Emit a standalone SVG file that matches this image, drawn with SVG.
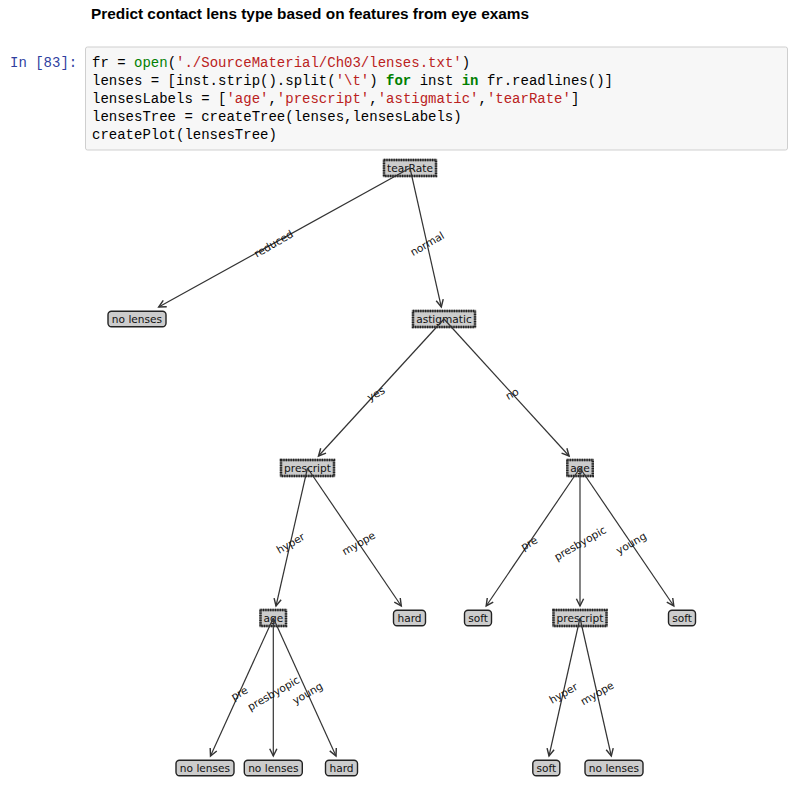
<svg xmlns="http://www.w3.org/2000/svg" width="789" height="786" viewBox="0 0 789 786">
<style>
.title{font-family:"Liberation Sans",Arial,sans-serif;font-size:14.3px;font-weight:bold;fill:#000}
.code{font-family:"Liberation Mono","Courier New",monospace;font-size:14px;fill:#000;white-space:pre}
.prompt{font-family:"Liberation Mono","Courier New",monospace;font-size:14px;fill:#303F9F;white-space:pre}
.kw{fill:#008000;font-weight:bold}
.bi{fill:#008000}
.str{fill:#BA2121}
.nt{font-family:"DejaVu Sans",sans-serif;font-size:10.6px;fill:#111;text-anchor:middle}
.lbl{font-family:"DejaVu Sans",sans-serif;font-size:10.6px;fill:#111;text-anchor:middle;dominant-baseline:central}
.leaf{fill:#cccccc;stroke:#222;stroke-width:1.4}
.dec{fill:#cccccc;stroke:#777;stroke-width:2.4}
.decd{fill:none;stroke:#222;stroke-width:2.4;stroke-dasharray:1.2 1.2}
.edge{stroke:#333;stroke-width:1.2;fill:none;marker-end:url(#ah)}
</style>
<defs>
<marker id="ah" markerUnits="userSpaceOnUse" markerWidth="12" markerHeight="12" viewBox="-8 -5 10 10" refX="0" refY="0" orient="auto">
<path d="M-6,-3 L0,0 L-6,3" fill="none" stroke="#333" stroke-width="1.2"/>
</marker>
</defs>
<rect width="789" height="786" fill="#fff"/>
<text class="title" x="91" y="19" textLength="438" lengthAdjust="spacingAndGlyphs">Predict contact lens type based on features from eye exams</text>
<text class="prompt" x="10" y="67">In [83]:</text>
<rect x="85.5" y="47" width="702" height="103" rx="2" fill="#f7f7f7" stroke="#cfcfcf"/>
<text class="code" x="92" y="67">fr = <tspan class="bi">open</tspan>(<tspan class="str">'./SourceMaterial/Ch03/lenses.txt'</tspan>)</text>
<text class="code" x="92" y="85">lenses = [inst.strip().split(<tspan class="str">'\t'</tspan>) <tspan class="kw">for</tspan> inst <tspan class="kw">in</tspan> fr.readlines()]</text>
<text class="code" x="92" y="103">lensesLabels = [<tspan class="str">'age'</tspan>,<tspan class="str">'prescript'</tspan>,<tspan class="str">'astigmatic'</tspan>,<tspan class="str">'tearRate'</tspan>]</text>
<text class="code" x="92" y="121">lensesTree = createTree(lenses,lensesLabels)</text>
<text class="code" x="92" y="139">createPlot(lensesTree)</text>

<g id="n0"><rect class="dec" x="384" y="160" width="52" height="16"/><rect class="decd" x="384" y="160" width="52" height="16"/><text class="nt" x="410" y="171.8">tearRate</text></g>
<g id="n1"><rect class="leaf" x="108" y="311.2" width="58" height="15.6" rx="3.5"/><text class="nt" x="137" y="322.8">no lenses</text></g>
<g id="n2"><rect class="dec" x="413" y="311" width="62" height="16"/><rect class="decd" x="413" y="311" width="62" height="16"/><text class="nt" x="444" y="322.8">astigmatic</text></g>
<g id="n3"><rect class="dec" x="281" y="460" width="53" height="16"/><rect class="decd" x="281" y="460" width="53" height="16"/><text class="nt" x="307.5" y="471.8">prescript</text></g>
<g id="n4"><rect class="dec" x="567.3" y="460" width="25.5" height="16"/><rect class="decd" x="567.3" y="460" width="25.5" height="16"/><text class="nt" x="580" y="471.8">age</text></g>
<g id="n5"><rect class="dec" x="260.5" y="610" width="25.5" height="16"/><rect class="decd" x="260.5" y="610" width="25.5" height="16"/><text class="nt" x="273.3" y="621.8">age</text></g>
<g id="n6"><rect class="leaf" x="393.5" y="610.2" width="32" height="15.6" rx="3.5"/><text class="nt" x="409.5" y="621.8">hard</text></g>
<g id="n7"><rect class="leaf" x="464.5" y="610.2" width="27" height="15.6" rx="3.5"/><text class="nt" x="478" y="621.8">soft</text></g>
<g id="n8"><rect class="dec" x="553.5" y="610" width="53" height="16"/><rect class="decd" x="553.5" y="610" width="53" height="16"/><text class="nt" x="580" y="621.8">prescript</text></g>
<g id="n9"><rect class="leaf" x="668.5" y="610.2" width="27" height="15.6" rx="3.5"/><text class="nt" x="682" y="621.8">soft</text></g>
<g id="n10"><rect class="leaf" x="176" y="760.2" width="58" height="15.6" rx="3.5"/><text class="nt" x="205" y="771.8">no lenses</text></g>
<g id="n11"><rect class="leaf" x="244.3" y="760.2" width="58" height="15.6" rx="3.5"/><text class="nt" x="273.3" y="771.8">no lenses</text></g>
<g id="n12"><rect class="leaf" x="325.5" y="760.2" width="32" height="15.6" rx="3.5"/><text class="nt" x="341.5" y="771.8">hard</text></g>
<g id="n13"><rect class="leaf" x="532.8" y="760.2" width="27" height="15.6" rx="3.5"/><text class="nt" x="546.3" y="771.8">soft</text></g>
<g id="n14"><rect class="leaf" x="585" y="760.2" width="58" height="15.6" rx="3.5"/><text class="nt" x="614" y="771.8">no lenses</text></g>

<g id="connectors">
<line class="edge" x1="410" y1="168" x2="158.7" y2="307"/>
<line class="edge" x1="410" y1="168" x2="441.3" y2="307"/>
<line class="edge" x1="444" y1="319" x2="318.5" y2="456"/>
<line class="edge" x1="444" y1="319" x2="569.1" y2="456"/>
<line class="edge" x1="307.5" y1="468" x2="276" y2="606"/>
<line class="edge" x1="307.5" y1="468" x2="401.3" y2="606"/>
<line class="edge" x1="580" y1="468" x2="486.2" y2="606"/>
<line class="edge" x1="580" y1="468" x2="580" y2="606"/>
<line class="edge" x1="580" y1="468" x2="673.8" y2="606"/>
<line class="edge" x1="273.3" y1="618" x2="210.5" y2="756"/>
<line class="edge" x1="273.3" y1="618" x2="273.3" y2="756"/>
<line class="edge" x1="273.3" y1="618" x2="336" y2="756"/>
<line class="edge" x1="580" y1="618" x2="549" y2="756"/>
<line class="edge" x1="580" y1="618" x2="611.3" y2="756"/>
<text class="lbl" x="273.5" y="243.5" transform="rotate(-30 273.5 243.5)">reduced</text>
<text class="lbl" x="427" y="243.5" transform="rotate(-30 427 243.5)">normal</text>
<text class="lbl" x="375.8" y="393.5" transform="rotate(-30 375.8 393.5)">yes</text>
<text class="lbl" x="512" y="393.5" transform="rotate(-30 512 393.5)">no</text>
<text class="lbl" x="290.4" y="543" transform="rotate(-30 290.4 543)">hyper</text>
<text class="lbl" x="358.5" y="543" transform="rotate(-30 358.5 543)">myope</text>
<text class="lbl" x="529" y="543" transform="rotate(-30 529 543)">pre</text>
<text class="lbl" x="580" y="543" transform="rotate(-30 580 543)">presbyopic</text>
<text class="lbl" x="631" y="543" transform="rotate(-30 631 543)">young</text>
<text class="lbl" x="239.2" y="693" transform="rotate(-30 239.2 693)">pre</text>
<text class="lbl" x="273.3" y="693" transform="rotate(-30 273.3 693)">presbyopic</text>
<text class="lbl" x="307.4" y="693" transform="rotate(-30 307.4 693)">young</text>
<text class="lbl" x="563.2" y="693" transform="rotate(-30 563.2 693)">hyper</text>
<text class="lbl" x="597" y="693" transform="rotate(-30 597 693)">myope</text>
</g>
</svg>
